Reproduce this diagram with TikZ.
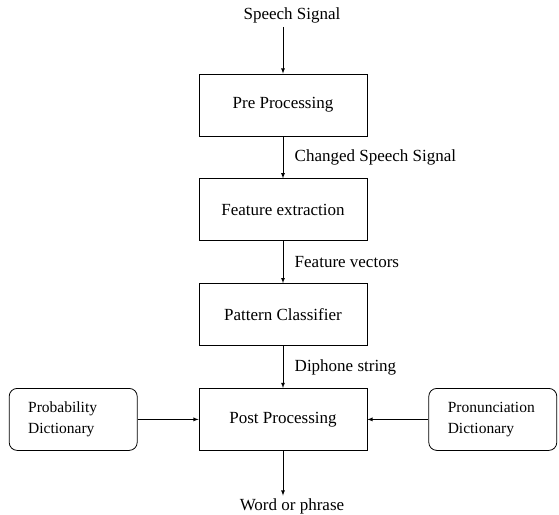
\documentclass[tikz,border=0pt]{standalone}
\usepackage{fontspec}
\setmainfont{Liberation Serif}
\usepackage{tikz}
\usetikzlibrary{matrix}
\usetikzlibrary{arrows}
\usetikzlibrary{calc}

\begin{document}
\begin{tikzpicture}
    	\tikzstyle{block} = 
    	[draw,
    	line width = 0.8pt,
    	minimum width = 168pt,
    	minimum height = 62pt,
    	font = \fontsize{17}{21}\selectfont
    	]
    	\tikzstyle{dict} = 
    	[draw,
    	line width = 0.8pt,
    	rounded corners = 8pt,
    	text width = 90pt,
    	inner xsep = 19pt,
    	align = left,
    	minimum height = 62pt,
    	font = \fontsize{15.5}{21}\selectfont
    	]
    	\tikzstyle{signal} = 
    	[xshift = 9pt,
    	yshift = -2pt,
    	font = \fontsize{17}{21}\selectfont
    	]
    	\tikzstyle{myarrow} = 
    	[-latex,
    	line width = 0.8pt
    	]
    	\tikzstyle{mylabel} = 
    	[midway,
    	anchor = west,
    	xshift = 8pt,
    	font = \fontsize{17}{21}\selectfont
    	]

        \matrix (m)[
        matrix of nodes,
        row sep=42pt,
        column sep=61pt,
        nodes={anchor=center},
		ampersand replacement=\&
        ]
        {
        	\& |[signal]| Speech Signal \& \\[5pt]
        	\& |[block]| Pre Processing \& \\
        	\& |[block]| Feature extraction \& \\
        	\& |[block]| Pattern Classifier \& \\
        	|[dict]| Probability Dictionary
        	\& |[block]| Post Processing
        	\& |[dict]| Pronunciation Dictionary \\[3pt]
        	\& |[signal]| Word or phrase \& \\
        };
        \path
        (m-1-2.south -| m-2-2.north) edge[myarrow]				(m-2-2)
        (m-2-2) edge[myarrow] node[mylabel] {Changed Speech Signal}	(m-3-2)
        (m-3-2) edge[myarrow] node[mylabel] {Feature vectors}		(m-4-2)
        (m-4-2) edge[myarrow] node[mylabel] {Diphone string}		(m-5-2)
        (m-5-1) edge[myarrow]										(m-5-2)
        (m-5-3) edge[myarrow]										(m-5-2)
        (m-5-2) edge[myarrow]				(m-6-2.north -| m-5-2.south)
		;
		\pgfresetboundingbox
		\path ($(m-2-2.center)+(-283pt,105pt)$) rectangle ++(559pt,-514pt);
    \end{tikzpicture}
\end{document}
